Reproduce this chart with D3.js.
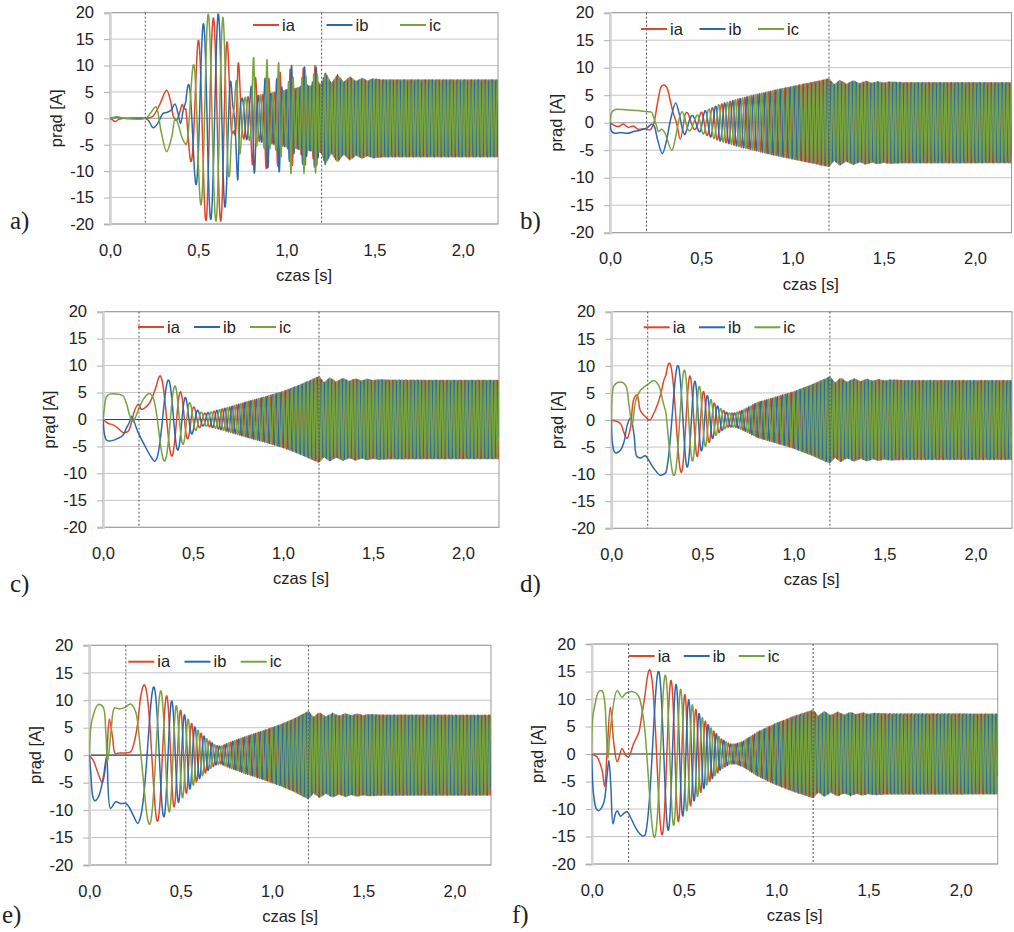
<!DOCTYPE html>
<html>
<head>
<meta charset="utf-8">
<script src="https://cdn.jsdelivr.net/npm/d3@7"></script>
<style>
body { margin: 0; background: #fff; }
svg text { font-family: "Liberation Sans", Arial, sans-serif; fill: #222; }
</style>
</head>
<body>
<svg id="chart" width="1014" height="932"></svg>
<script>
// ---- data ----
var xTickVals = [0, 0.5, 1, 1.5, 2];
var xTickLabels = ["0,0", "0,5", "1,0", "1,5", "2,0"];
var yTickVals = [-20, -15, -10, -5, 0, 5, 10, 15, 20];
var yTickLabels = ["-20", "-15", "-10", "-5", "0", "5", "10", "15", "20"];
var seriesNames = ["ia", "ib", "ic"];
var markTimes = [0.2, 1.2];

// supply frequency [Hz] over time (b-f), panel a has its own
var rampT = [0, 0.2, 1.2, 2.2];
var rampF = [0, 0, 50, 50];
var freqAT = [0, 0.6, 0.68, 1.2, 2.2];
var freqAF = [11, 11.7, 14, 50, 50];

// amplitude after 1.2 s (b-f)
var tailT = [1.2, 1.228, 1.26, 1.295, 1.333, 1.368, 1.403, 1.435, 1.467, 1.5, 1.532, 1.6, 2.2];
var tailA = [8.0, 6.9, 7.75, 7.0, 7.65, 7.12, 7.58, 7.2, 7.5, 7.25, 7.42, 7.32, 7.3];

// a)
var ia_a = [[0,0],[0.015,-0.3],[0.03,-0.6],[0.05,-0.2],[0.08,0],[0.2,0],[0.24,0.3],[0.28,2.5],[0.321,5.3],[0.345,3],[0.36,0.3],[0.375,-0.4],[0.39,0.5],[0.41,2.65],[0.42,1.8]];
var ib_a = [[0,0],[0.04,0.2],[0.08,0],[0.2,0],[0.22,-0.5],[0.245,-1.8],[0.27,-1],[0.30,0.9],[0.32,1.1],[0.345,1.5],[0.368,2.7],[0.385,1],[0.40,-1],[0.415,1.5]];
var ic_a = [[0,0],[0.04,0.3],[0.08,0],[0.2,0],[0.23,1],[0.26,2.2],[0.29,-2.5],[0.321,-6.3],[0.35,-3.5],[0.37,0],[0.39,-1.5],[0.41,-3.8]];
var envAT = [0.43,0.445,0.47,0.50,0.525,0.55,0.58,0.612,0.64,0.665,0.68,0.695,0.705,0.725,0.745,0.795,0.815,0.835,0.87,0.89,0.91,0.937,0.957,0.977,1.007,1.027,1.047,1.08,1.10,1.12,1.145,1.165,1.185,
             1.2,1.22,1.255,1.29,1.325,1.36,1.395,1.43,1.46,1.49,1.55,2.2];
var envAV = [5,6.5,9.7,14.7,17.5,20,18.8,19.8,19.2,14.5,10,3,2.5,12.5,3.8,4.2,12,4.3,4.6,11.2,4.7,5,11,5.2,5.5,10.8,5.6,6,10.5,6.1,6.2,10.6,6.4,
             6.6,8.8,6.6,8.3,6.8,7.9,7.0,7.6,7.1,7.5,7.3,7.3];

// b)
var ia_b = [[0,0],[0.018,-0.4],[0.046,-0.7],[0.073,-0.25],[0.10,-0.85],[0.128,-0.6],[0.155,-1.2],[0.192,-1.1],[0.219,-1.3],[0.237,-0.4],[0.26,3.5],[0.28,6.5],[0.292,6.85],[0.31,6.5],[0.33,4],[0.347,1.7],[0.365,-0.1],[0.385,-3.0]];
var ib_b = [[0,0],[0.009,-1.6],[0.025,-1.9],[0.06,-1.8],[0.1,-1.9],[0.13,-1.6],[0.16,-1.4],[0.2,-1.0],[0.228,-0.3],[0.242,-0.6],[0.26,-3],[0.287,-5.6],[0.31,-3.2],[0.33,0.3],[0.36,3.6],[0.38,1.5],[0.397,-1.2]];
var ic_b = [[0,0],[0.012,2.0],[0.03,2.4],[0.07,2.4],[0.1,2.3],[0.15,2.2],[0.2,2.0],[0.228,1.9],[0.24,0.9],[0.256,-0.7],[0.265,-1.6],[0.283,-1.2],[0.3,-1.8],[0.338,-5.0],[0.36,-2.5],[0.38,0.8],[0.395,2.0]];
var envBT = [0.41,0.44,0.47,0.5,0.53,0.6,0.7,0.8,0.9,1.0,1.1];
var envBV = [2.2,1.4,1.2,1.9,2.3,3.3,4.3,5.1,5.9,6.6,7.3];

// c)
var ia_c = [[0,0],[0.028,-0.7],[0.056,-1.0],[0.083,-1.6],[0.111,-2.4],[0.139,-2.2],[0.157,-0.7],[0.176,1.7],[0.196,2.85],[0.213,1.9],[0.231,2.1],[0.259,3.1],[0.278,4.5]];
var ib_c = [[0,0],[0.009,-2.9],[0.019,-3.8],[0.037,-4.0],[0.083,-3.5],[0.111,-2.9],[0.13,-1.6],[0.148,-0.4],[0.157,0.6],[0.176,-0.7],[0.194,-2.3],[0.231,-4.8],[0.268,-7.0],[0.287,-7.8]];
var ic_c = [[0,0],[0.006,1.7],[0.019,4.2],[0.037,4.7],[0.083,4.7],[0.111,4.4],[0.13,3.0],[0.148,0.8],[0.167,-0.4],[0.185,0.8],[0.204,2.4],[0.231,4.1],[0.259,4.8],[0.278,4.1]];
var envCT = [0.30,0.32,0.37,0.41,0.44,0.47,0.5,0.53,0.56,0.6,0.7,0.8,0.9,1.0,1.1];
var envCV = [8,8.1,7.2,5.9,4.8,3.6,2.5,1.6,1.15,1.4,2.3,3.3,4.2,5.2,6.5];

// d)
var ia_d = [[0,0],[0.049,-0.6],[0.068,-2.2],[0.086,-3.4],[0.105,-1.5],[0.123,3.8],[0.141,4.6],[0.159,1.8],[0.178,0.9],[0.211,0],[0.233,1.2],[0.27,4.6],[0.29,7.5]];
var ib_d = [[0,0],[0.005,-4],[0.016,-5.8],[0.025,-6.1],[0.052,-5.5],[0.07,-4.0],[0.088,-0.9],[0.106,0.4],[0.125,-2.8],[0.14,-6.7],[0.16,-7.0],[0.187,-6.6],[0.205,-7.4],[0.233,-8.9],[0.27,-10.2]];
var ic_d = [[0,0],[0.005,4.6],[0.016,6.4],[0.052,7.0],[0.079,6.4],[0.097,2.8],[0.115,-0.9],[0.133,3.4],[0.16,5.5],[0.18,6.1],[0.198,6.5],[0.233,7.3],[0.26,6.4],[0.285,3.2]];
var envDT = [0.30,0.32,0.37,0.41,0.44,0.47,0.5,0.53,0.56,0.6,0.64,0.68,0.72,0.8,0.9,1.0,1.1];
var envDV = [10.5,10.5,10,9,7.8,6.8,5.5,4.4,3.3,2.1,1.3,1.3,1.8,3.2,4.2,5.2,6.5];

// e)
var ia_e = [[0,0],[0.021,-0.9],[0.048,-3.3],[0.071,-5.0],[0.093,-0.9],[0.11,6.6],[0.128,3.1],[0.142,0.3],[0.164,0.4],[0.2,0.4],[0.226,0.6],[0.244,2.1],[0.262,5.1]];
var ib_e = [[0,0],[0.008,-3.2],[0.019,-7.5],[0.03,-8.3],[0.05,-7.6],[0.077,-4.0],[0.095,-0.3],[0.116,-9.7],[0.145,-8.5],[0.171,-8.8],[0.2,-8.8],[0.217,-9.4],[0.244,-11.2],[0.265,-12.4]];
var ic_e = [[0,0],[0.008,5.0],[0.021,7.2],[0.048,9.2],[0.075,8.8],[0.09,4.4],[0.1,-1.2],[0.12,4.6],[0.138,8.6],[0.164,8.4],[0.19,8.6],[0.226,9.3],[0.253,8.0],[0.268,5.0]];
var envET = [0.28,0.30,0.355,0.396,0.43,0.46,0.5,0.53,0.56,0.6,0.65,0.69,0.72,0.76,0.85,0.95,1.05,1.12];
var envEV = [12.6,12.8,12.4,11.6,10.6,9.6,8.2,7.0,5.8,4.4,2.8,1.8,1.6,2.2,3.3,4.4,5.6,6.6];

// f)
var ia_f = [[0,0],[0.028,-0.5],[0.056,-2.9],[0.07,-5.9],[0.083,0.1],[0.101,8.5],[0.12,1.9],[0.138,-1.4],[0.165,1.0],[0.183,-0.2],[0.2,-0.5],[0.227,1.9],[0.254,3.8],[0.273,7.4]];
var ib_f = [[0,0],[0.009,-7],[0.024,-9.9],[0.037,-10.3],[0.064,-9],[0.083,-4],[0.093,-1.2],[0.104,-6],[0.115,-12.7],[0.129,-10.8],[0.138,-10.3],[0.156,-11.3],[0.174,-10.8],[0.192,-10.5],[0.21,-11.5],[0.245,-13.8],[0.275,-14.9]];
var ic_f = [[0,0],[0.005,6.5],[0.018,9.0],[0.037,11.3],[0.056,11.5],[0.07,9.6],[0.079,4.4],[0.088,-0.8],[0.101,4.4],[0.138,11.5],[0.165,10.3],[0.183,11.0],[0.227,11.3],[0.254,10.5],[0.273,8.0]];
var envFT = [0.29,0.315,0.365,0.405,0.435,0.47,0.5,0.53,0.56,0.6,0.65,0.7,0.75,0.78,0.82,0.9,1.0,1.1];
var envFV = [15.3,15.3,15,14.2,13.2,12.3,11,9.7,8.3,6.6,4.6,2.8,1.8,1.8,2.3,4.0,5.6,6.9];

// time of an ia crest used to line up the phases, and where the fast part starts
var phaseRefs = [0.50, 0.30, 0.317, 0.319, 0.301, 0.314];
var startTimes = [0.43, 0.41, 0.30, 0.30, 0.28, 0.29];

(function(){
    var svg = d3.select("#chart");
    var colors = ["#e2462a", "#2c68b0", "#78a23e"];
    var T_END = 2.2, DT = 0.001;

    var panels = [
        {label:"a)", box:[110,498,12.7,224],     lab:[10,229],  leg:[253,25,73.5],    zero:"#b0b0b0",
         cur:[ia_a,ib_a,ic_a], fT:freqAT, fF:freqAF, eT:envAT, eV:envAV},
        {label:"b)", box:[610,1011.5,12.7,232.7], lab:[520,229], leg:[641,29,58.5],   zero:"#b0b0b0",
         cur:[ia_b,ib_b,ic_b], fT:rampT, fF:rampF, eT:envBT.concat(tailT), eV:envBV.concat(tailA)},
        {label:"c)", box:[103,499,311.7,527.3],  lab:[10,592],  leg:[138,327,56],     zero:"#404040",
         cur:[ia_c,ib_c,ic_c], fT:rampT, fF:rampF, eT:envCT.concat(tailT), eV:envCV.concat(tailA)},
        {label:"d)", box:[611.3,1012,311.7,528.3], lab:[520,592], leg:[643.7,327.3,55.3], zero:"#b0b0b0",
         cur:[ia_d,ib_d,ic_d], fT:rampT, fF:rampF, eT:envDT.concat(tailT), eV:envDV.concat(tailA)},
        {label:"e)", box:[89.3,491,645.3,865],   lab:[2,923],   leg:[128.3,661.7,56.2], zero:"#404040",
         cur:[ia_e,ib_e,ic_e], fT:rampT, fF:rampF, eT:envET.concat(tailT), eV:envEV.concat(tailA)},
        {label:"f)", box:[591.7,997.7,644,864],  lab:[512,923], leg:[628.7,656,55],   zero:"#404040",
         cur:[ia_f,ib_f,ic_f], fT:rampT, fF:rampF, eT:envFT.concat(tailT), eV:envFV.concat(tailA)}
    ];

    function buildSeries(p, i){
        var fr = d3.scaleLinear().domain(p.fT).range(p.fF).clamp(true);
        var env = d3.scaleLinear().domain(p.eT).range(p.eV).clamp(true);
        var n = Math.round(T_END/DT);
        var cyc = [0];
        for (var k = 1; k <= n; k++) {
            cyc[k] = cyc[k-1] + 0.5*(fr((k-1)*DT) + fr(k*DT))*DT;
        }
        var ref = cyc[Math.round(phaseRefs[i]/DT)];
        var out = p.cur.map(function(c){ return c.slice(); });
        for (var k = Math.round(startTimes[i]/DT); k <= n; k++) {
            var t = k*DT, A = env(t), ph = 2*Math.PI*(cyc[k]-ref);
            out[0].push([t, A*Math.cos(ph)]);
            out[1].push([t, A*Math.cos(ph - 2*Math.PI/3)]);
            out[2].push([t, A*Math.cos(ph + 2*Math.PI/3)]);
        }
        return out;
    }

    panels.forEach(function(p, i){
        var x0 = p.box[0], x1 = p.box[1], y0 = p.box[2], y1 = p.box[3];
        var x = d3.scaleLinear().domain([0, 2.2]).range([x0, x1]);
        var y = d3.scaleLinear().domain([-20, 20]).range([y1, y0]);
        var g = svg.append("g");

        // grid
        g.selectAll("line.grid")
            .data(yTickVals)
            .enter()
            .append("line")
            .attr("x1", x0).attr("x2", x1)
            .attr("y1", function(d){ return y(d); })
            .attr("y2", function(d){ return y(d); })
            .attr("stroke", "#c4c4c4")
            .attr("stroke-width", 1);

        g.append("rect")
            .attr("x", x0).attr("y", y0)
            .attr("width", x1-x0).attr("height", y1-y0)
            .attr("fill", "none")
            .attr("stroke", "#9a9a9a");

        g.append("line")
            .attr("x1", x0).attr("x2", x1)
            .attr("y1", y(0)).attr("y2", y(0))
            .attr("stroke", p.zero).attr("stroke-width", 1.2);

        // y axis
        var yAxis = d3.axisLeft(y)
            .tickValues(yTickVals)
            .tickFormat(function(d, k){ return yTickLabels[k]; })
            .tickSize(6)
            .tickPadding(10);
        var ya = g.append("g").attr("transform", "translate(" + x0 + ",0)").call(yAxis);
        ya.select(".domain").attr("stroke", "#d2d2d2").attr("stroke-width", 2.5);
        ya.selectAll(".tick line").attr("stroke", "#b0b0b0");
        ya.selectAll("text").attr("font-size", 16.5).attr("fill", "#222")
            .attr("font-family", "Liberation Sans, Arial, sans-serif");

        // x axis
        var xAxis = d3.axisBottom(x)
            .tickValues(xTickVals)
            .tickFormat(function(d, k){ return xTickLabels[k]; })
            .tickSize(0)
            .tickPadding(20);
        var xa = g.append("g").attr("transform", "translate(0," + y1 + ")").call(xAxis);
        xa.select(".domain").remove();
        xa.selectAll("text").attr("font-size", 16.5).attr("fill", "#222")
            .attr("font-family", "Liberation Sans, Arial, sans-serif");

        // titles
        g.append("text")
            .attr("x", (x0+x1)/2).attr("y", y1 + 57)
            .attr("text-anchor", "middle")
            .attr("font-size", 16.5)
            .text("czas [s]");
        g.append("text")
            .attr("transform", "translate(" + (x0-54) + "," + ((y0+y1)/2) + ") rotate(-90)")
            .attr("text-anchor", "middle")
            .attr("dy", "0.35em")
            .attr("font-size", 16.5)
            .text("prąd [A]");
        g.append("text")
            .attr("x", p.lab[0]).attr("y", p.lab[1])
            .attr("font-size", 25)
            .style("font-family", "'Liberation Serif', 'Times New Roman', serif")
            .text(p.label);

        // series
        var clipId = "clip" + i;
        svg.append("clipPath").attr("id", clipId)
            .append("rect")
            .attr("x", x0).attr("y", y0 - 1)
            .attr("width", x1-x0).attr("height", y1-y0+2);

        var line = d3.line()
            .x(function(d){ return x(d[0]); })
            .y(function(d){ return y(d[1]); })
            .curve(d3.curveCatmullRom.alpha(0.5));

        var data = buildSeries(p, i);
        g.append("g").attr("clip-path", "url(#" + clipId + ")")
            .selectAll("path")
            .data(data)
            .enter()
            .append("path")
            .attr("d", line)
            .attr("fill", "none")
            .attr("stroke", function(d, k){ return colors[k]; })
            .attr("stroke-width", 1.5);

        // dotted markers
        g.selectAll("line.mark")
            .data(markTimes)
            .enter()
            .append("line")
            .attr("x1", function(d){ return x(d); })
            .attr("x2", function(d){ return x(d); })
            .attr("y1", y0).attr("y2", y1)
            .attr("stroke", "#555")
            .attr("stroke-width", 1)
            .attr("stroke-dasharray", "2,2");

        // legend
        var lg = g.selectAll("g.leg")
            .data(seriesNames)
            .enter()
            .append("g")
            .attr("transform", function(d, k){
                return "translate(" + (p.leg[0] + k*p.leg[2]) + "," + p.leg[1] + ")";
            });
        lg.append("line")
            .attr("x1", 0).attr("x2", 26)
            .attr("stroke", function(d, k){ return colors[k]; })
            .attr("stroke-width", 2);
        lg.append("text")
            .attr("x", 29).attr("dy", "0.35em")
            .attr("font-size", 16.5)
            .text(function(d){ return d; });
    });
})();
</script>
</body>
</html>
